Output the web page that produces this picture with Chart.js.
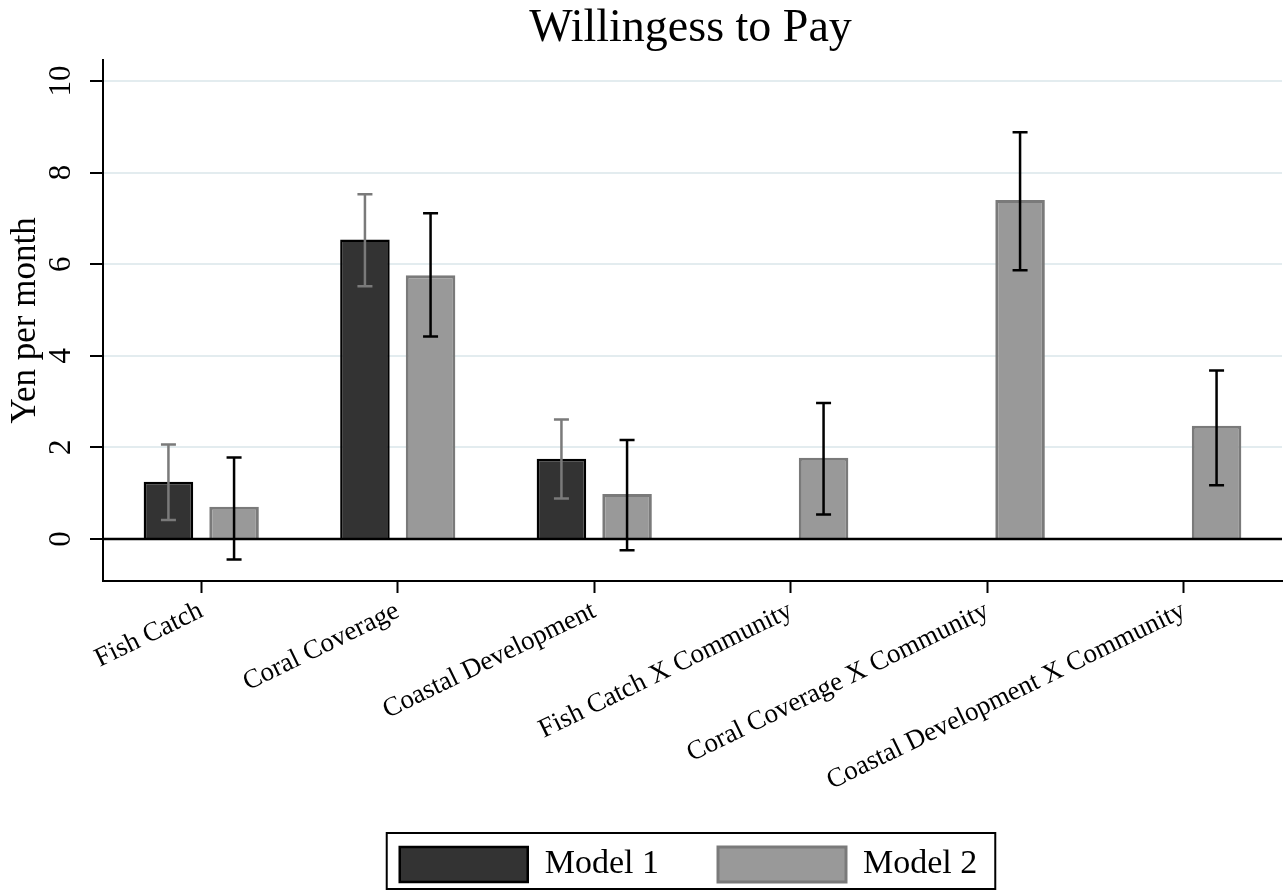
<!DOCTYPE html>
<html>
<head>
<meta charset="utf-8">
<script src="https://cdn.jsdelivr.net/npm/chart.js@4.4.0/dist/chart.umd.min.js"></script>
<style>
  html, body { margin: 0; padding: 0; background: #fff; }
  #wrap { width: 1285px; height: 892px; position: relative; }
</style>
</head>
<body>
<div id="wrap"><canvas id="wtpChart"></canvas></div>
<script>
// data
const categories = ['Fish Catch', 'Coral Coverage', 'Coastal Development',
    'Fish Catch X Community', 'Coral Coverage X Community', 'Coastal Development X Community'];
const model1 = [1.25, 6.54, 1.75, null, null, null];
const model1Low = [0.41, 5.52, 0.88, null, null, null];
const model1High = [2.06, 7.53, 2.61, null, null, null];
const model2 = [0.70, 5.76, 0.98, 1.77, 7.40, 2.47];
const model2Low = [-0.45, 4.42, -0.25, 0.53, 5.87, 1.17];
const model2High = [1.78, 7.11, 2.16, 2.97, 8.88, 3.68];
const yTicks = [0, 2, 4, 6, 8, 10];

const serif = "'Liberation Serif', 'Times New Roman', serif";

// confidence intervals + zero line, drawn over the bars
const errorBars = {
    id: 'errorBars',
    afterDatasetsDraw(chart) {
        const ctx = chart.ctx;
        const y = chart.scales.y;
        const area = chart.chartArea;
        ctx.save();
        // zero reference line
        const y0 = y.getPixelForValue(0);
        ctx.strokeStyle = '#000';
        ctx.lineWidth = 2.5;
        ctx.beginPath();
        ctx.moveTo(area.left, y0);
        ctx.lineTo(area.right, y0);
        ctx.stroke();

        const ranges = [[model1Low, model1High, '#7a7a7a'], [model2Low, model2High, '#000']];
        ranges.forEach(([lo, hi, col], di) => {
            const meta = chart.getDatasetMeta(di);
            ctx.strokeStyle = col;
            ctx.lineWidth = 2.5;
            meta.data.forEach((bar, i) => {
                if (lo[i] == null || hi[i] == null) return;
                const yl = y.getPixelForValue(lo[i]);
                const yh = y.getPixelForValue(hi[i]);
                ctx.beginPath();
                ctx.moveTo(bar.x, yl); ctx.lineTo(bar.x, yh);
                ctx.moveTo(bar.x - 7.5, yl); ctx.lineTo(bar.x + 7.5, yl);
                ctx.moveTo(bar.x - 7.5, yh); ctx.lineTo(bar.x + 7.5, yh);
                ctx.stroke();
            });
        });
        ctx.restore();
    }
};

// center title and legend over the plot area, frame the legend
const legendFrame = {
    id: 'legendFrame',
    afterLayout(chart) {
        const mid = (chart.chartArea.left + chart.chartArea.right) / 2;
        const lg = chart.legend;
        const dx = mid - (lg.left + lg.right) / 2 - 4;
        lg.left += dx;
        lg.right += dx;
        const tb = chart.titleBlock;
        const tx = mid - 2 - (tb.left + tb.right) / 2;
        tb.left += tx;
        tb.right += tx;
    },
    afterDraw(chart) {
        const lg = chart.legend;
        const pad = lg.options.labels.padding;
        const start = (lg.left + pad + lg.right - lg.lineWidths[0]) / 2;
        const end = start + lg.lineWidths[0] - pad;
        const top = lg.top + pad - 14;
        const ctx = chart.ctx;
        ctx.save();
        ctx.strokeStyle = '#000';
        ctx.lineWidth = 2;
        ctx.strokeRect(start - 13, top, end - start + 31, 56);
        ctx.restore();
    }
};

new Chart(document.getElementById('wtpChart'), {
    type: 'bar',
    data: {
        labels: categories,
        datasets: [{
            label: 'Model 1',
            data: model1,
            backgroundColor: '#333333',
            borderColor: '#000000',
            borderWidth: 2.5
        }, {
            label: 'Model 2',
            data: model2,
            backgroundColor: '#999999',
            borderColor: '#7a7a7a',
            borderWidth: 3
        }]
    },
    options: {
        responsive: true,
        maintainAspectRatio: false,
        animation: false,
        datasets: { bar: { barPercentage: 0.755, categoryPercentage: 0.668 } },
        layout: { padding: { left: 0, right: 3, top: 0, bottom: 0 } },
        plugins: {
            title: {
                display: true,
                text: 'Willingess to Pay',
                color: '#000',
                font: { family: serif, size: 46, weight: 'normal', lineHeight: 1.0 },
                padding: { top: 6, bottom: 8 }
            },
            legend: {
                position: 'bottom',
                labels: {
                    color: '#000',
                    font: { family: serif, size: 34 },
                    boxWidth: 128,
                    boxHeight: 35,
                    padding: 59
                }
            },
            tooltip: { enabled: false }
        },
        scales: {
            x: {
                afterFit: s => { s.height = 207; },
                grid: {
                    display: true,
                    drawOnChartArea: false,
                    offset: false,
                    tickLength: 12,
                    tickColor: '#000',
                    tickWidth: 2
                },
                border: { display: true, color: '#000', width: 2 },
                ticks: {
                    color: '#000',
                    font: { family: serif, size: 27 },
                    autoSkip: false,
                    minRotation: 26,
                    maxRotation: 26,
                    padding: 2
                }
            },
            y: {
                min: -0.92,
                max: 10.46,
                afterBuildTicks: s => { s.ticks = yTicks.map(v => ({ value: v })); },
                afterFit: s => { s.width = 103; },
                grid: {
                    color: c => (c.tick && c.tick.value === 0) ? '#000' : '#e3ecef',
                    lineWidth: 2,
                    tickLength: 13,
                    tickColor: '#000',
                    tickWidth: 2
                },
                border: { display: true, color: '#000', width: 2 },
                ticks: {
                    color: '#000',
                    font: { family: serif, size: 31 },
                    minRotation: 90,
                    maxRotation: 90,
                    crossAlign: 'center',
                    padding: 13
                },
                title: {
                    display: true,
                    text: 'Yen per month',
                    color: '#000',
                    font: { family: serif, size: 35 },
                    padding: { top: 5, bottom: 0 }
                }
            }
        }
    },
    plugins: [errorBars, legendFrame]
});
</script>
</body>
</html>
